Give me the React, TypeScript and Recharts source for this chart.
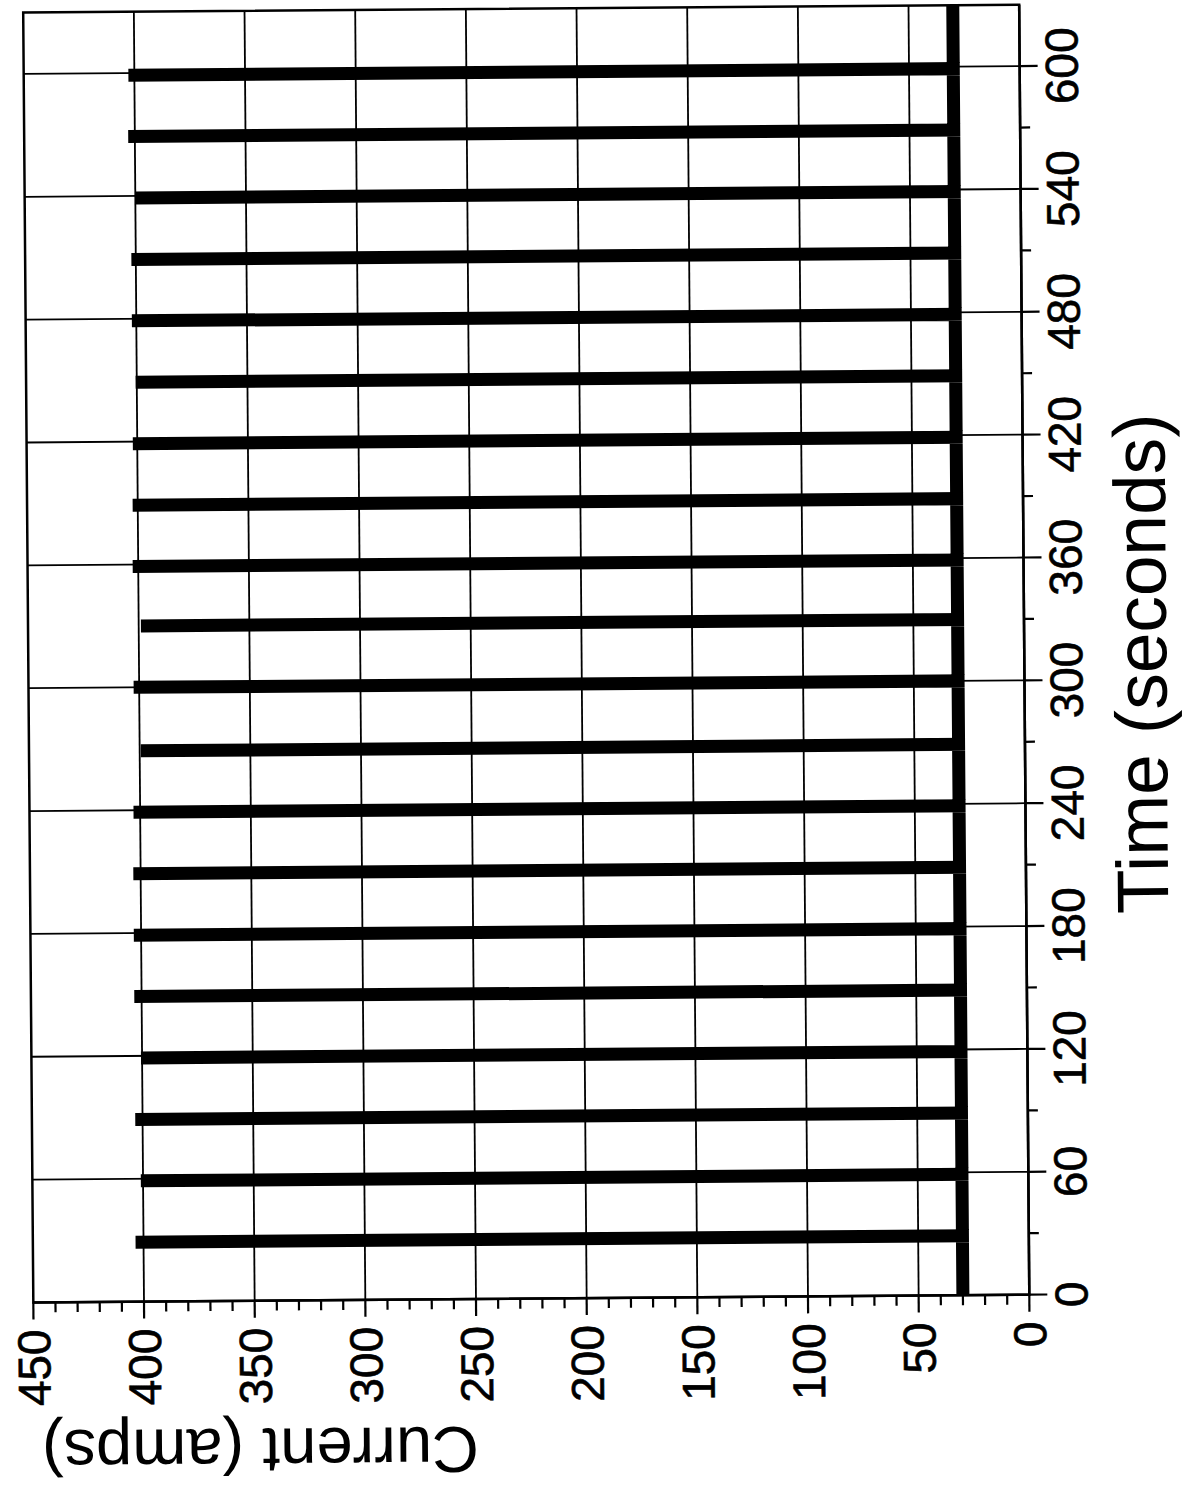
import React from 'react';
import { LineChart, Line, XAxis, YAxis, ReferenceLine, ReferenceArea } from 'recharts';

// pulse times (s) and peak currents (A)
const pulseTimes = [29, 59, 89, 119, 149, 179, 209, 239, 269, 300, 330, 359, 389, 419, 449, 479, 509, 539, 569, 599];
const pulsePeaks = [403.6, 401, 403.3, 400.5, 403.3, 403.3, 403.3, 403, 399.5, 402.5, 399, 402.5, 402.3, 402, 400.5, 402, 402, 400, 403, 402.7];
const baseCurrent = 30;
const timeEnd = 630;

const timeLabels = [0, 60, 120, 180, 240, 300, 360, 420, 480, 540, 600];
const timeTicks = [0, 30, 60, 90, 120, 150, 180, 210, 240, 270, 300, 330, 360, 390, 420, 450, 480, 510, 540, 570, 600];
const currentLabels = [0, 50, 100, 150, 200, 250, 300, 350, 400, 450];
const currentTicks = [
  0, 10, 20, 30, 40, 50, 60, 70, 80, 90, 100, 110, 120, 130, 140, 150, 160, 170, 180, 190, 200,
  210, 220, 230, 240, 250, 260, 270, 280, 290, 300, 310, 320, 330, 340, 350, 360, 370, 380, 390,
  400, 410, 420, 430, 440, 450,
];

const series: { t: number; amps: number }[] = [{ t: 0, amps: baseCurrent }];
pulseTimes.forEach((t, i) => {
  series.push({ t, amps: baseCurrent });
  series.push({ t, amps: pulsePeaks[i] });
  series.push({ t, amps: baseCurrent });
});
series.push({ t: timeEnd, amps: baseCurrent });

const FONT = '"Liberation Sans", Arial, Helvetica, sans-serif';

const TimeTick = (props: any) => {
  const { x, y, payload } = props;
  const major = timeLabels.includes(payload.value);
  return (
    <g>
      <line x1={x} x2={x} y1={y} y2={y + (major ? 18 : 10)} stroke="#000" strokeWidth={2.2} />
      {major && (
        <text x={x} y={y + 58} textAnchor="middle" fontSize={46} fontFamily={FONT} fill="#000" stroke="#000" strokeWidth={0.6}>
          {payload.value}
        </text>
      )}
    </g>
  );
};

const CurrentTick = (props: any) => {
  const { x, y, payload } = props;
  const major = currentLabels.includes(payload.value);
  return (
    <g>
      <line x1={x - (major ? 17 : 10)} x2={x} y1={y} y2={y} stroke="#000" strokeWidth={2.2} />
      {major && (
        <text x={x - 27} y={y} dy="0.36em" textAnchor="end" fontSize={46} fontFamily={FONT} fill="#000" stroke="#000" strokeWidth={0.6}>
          {payload.value}
        </text>
      )}
    </g>
  );
};

export default function App() {
  return (
    <div style={{ position: 'absolute', left: 0, top: 0, width: 1198, height: 1498, overflow: 'hidden', background: '#fff' }}>
      <div style={{ position: 'absolute', left: -150, top: 150, width: 1498, height: 1198, transform: 'rotate(-90.45deg)' }}>
        <LineChart width={1498} height={1198} data={series} margin={{ top: 29, right: 8, bottom: 0, left: 0 }}>
          <XAxis
            dataKey="t"
            type="number"
            domain={[0, timeEnd]}
            ticks={timeTicks}
            interval={0}
            tickSize={0}
            tickMargin={0}
            tickLine={false}
            tick={<TimeTick />}
            height={173}
            axisLine={{ stroke: '#000', strokeWidth: 2.5 }}
          />
          <YAxis
            type="number"
            domain={[0, 450]}
            ticks={currentTicks}
            interval={0}
            tickSize={0}
            tickMargin={0}
            tickLine={false}
            tick={<CurrentTick />}
            width={200}
            axisLine={{ stroke: '#000', strokeWidth: 2.5 }}
          />
          {timeLabels.slice(1).map((t) => (
            <ReferenceLine key={'t' + t} x={t} stroke="#000" strokeWidth={1.8} />
          ))}
          {currentLabels.slice(1, -1).map((c) => (
            <ReferenceLine key={'c' + c} y={c} stroke="#000" strokeWidth={1.8} />
          ))}
          <ReferenceArea x1={0} x2={timeEnd} y1={0} y2={450} fill="none" fillOpacity={0} stroke="#000" strokeWidth={2.5} />
          <Line
            type="linear"
            dataKey="amps"
            stroke="#000"
            strokeWidth={13}
            strokeLinejoin="miter"
            strokeLinecap="butt"
            dot={false}
            isAnimationActive={false}
          />
        </LineChart>
        <svg width={1498} height={1198} style={{ position: 'absolute', left: 0, top: 0, pointerEvents: 'none' }}>
          <text x={830} y={1167} textAnchor="middle" fontSize={73} fontFamily={FONT} fill="#000">
            Time (seconds)
          </text>
          <text x={72} y={255} transform="rotate(-90 72 255)" textAnchor="middle" fontSize={65} fontFamily={FONT} fill="#000">
            Current (amps)
          </text>
        </svg>
      </div>
    </div>
  );
}
